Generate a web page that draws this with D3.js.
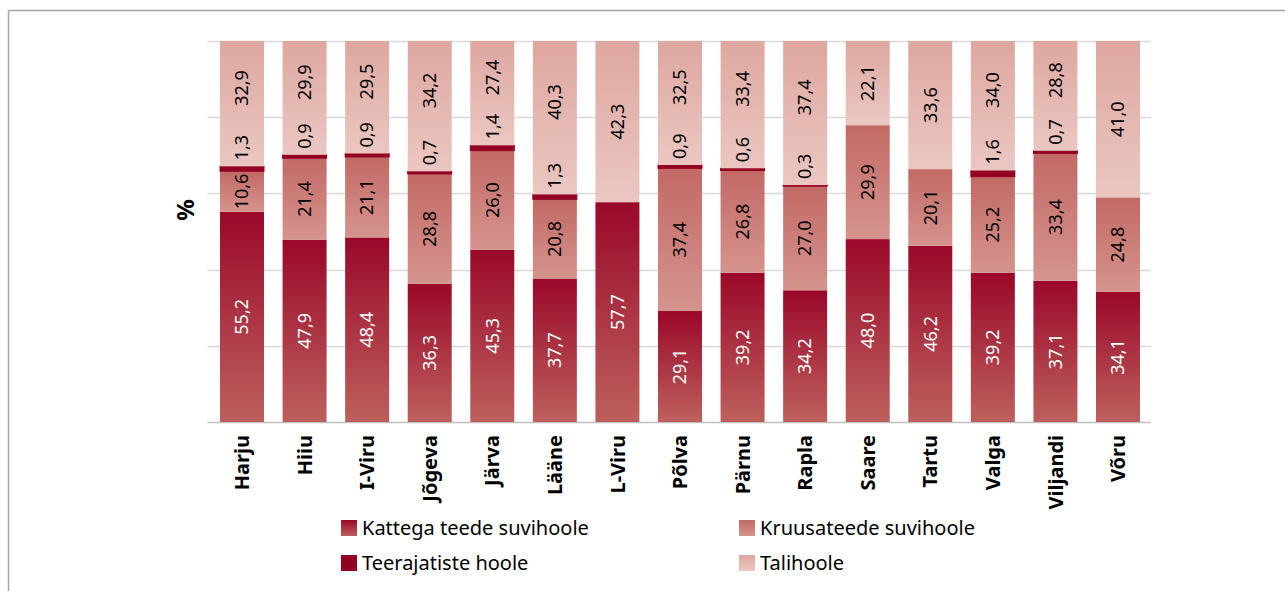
<!DOCTYPE html>
<html>
<head>
<meta charset="utf-8">
<script src="https://cdn.jsdelivr.net/npm/d3@7"></script>
<style>
    body { margin: 0; background: #fff; }
    text { font-family: "Noto Sans", "Open Sans", sans-serif; }
</style>
</head>
<body>
<div id="chart"></div>
<script>
"use-strict";

let svgContainer = "";
const msm = {
    width: 1285,
    height: 591,
    top: 41,
    bottom: 422,
    left: 207.5,
    right: 1152.5
}

// segment order from the bottom up
const series = [
    { key: "kattega", name: "Kattega teede suvihoole", top: "#9a0829", bottom: "#bd605d", label: "#ffffff" },
    { key: "kruusa", name: "Kruusateede suvihoole", top: "#c26965", bottom: "#d6948e", label: "#000000" },
    { key: "teerajad", name: "Teerajatiste hoole", top: "#930022", bottom: "#930022", label: "#000000" },
    { key: "tali", name: "Talihoole", top: "#dea7a0", bottom: "#ebc7c1", label: "#000000" }
]

const data = [
    { maakond: "Harju", kattega: 55.2, kruusa: 10.6, teerajad: 1.3, tali: 32.9 },
    { maakond: "Hiiu", kattega: 47.9, kruusa: 21.4, teerajad: 0.9, tali: 29.9 },
    { maakond: "I-Viru", kattega: 48.4, kruusa: 21.1, teerajad: 0.9, tali: 29.5 },
    { maakond: "Jõgeva", kattega: 36.3, kruusa: 28.8, teerajad: 0.7, tali: 34.2 },
    { maakond: "Järva", kattega: 45.3, kruusa: 26.0, teerajad: 1.4, tali: 27.4 },
    { maakond: "Lääne", kattega: 37.7, kruusa: 20.8, teerajad: 1.3, tali: 40.3 },
    { maakond: "L-Viru", kattega: 57.7, kruusa: 0, teerajad: 0, tali: 42.3 },
    { maakond: "Põlva", kattega: 29.1, kruusa: 37.4, teerajad: 0.9, tali: 32.5 },
    { maakond: "Pärnu", kattega: 39.2, kruusa: 26.8, teerajad: 0.6, tali: 33.4 },
    { maakond: "Rapla", kattega: 34.2, kruusa: 27.0, teerajad: 0.3, tali: 37.4 },
    { maakond: "Saare", kattega: 48.0, kruusa: 29.9, teerajad: 0, tali: 22.1 },
    { maakond: "Tartu", kattega: 46.2, kruusa: 20.1, teerajad: 0, tali: 33.6 },
    { maakond: "Valga", kattega: 39.2, kruusa: 25.2, teerajad: 1.6, tali: 34.0 },
    { maakond: "Viljandi", kattega: 37.1, kruusa: 33.4, teerajad: 0.7, tali: 28.8 },
    { maakond: "Võru", kattega: 34.1, kruusa: 24.8, teerajad: 0, tali: 41.0 }
]

window.onload = function () {
    svgContainer = d3.select("#chart")
        .append('svg')
        .attr('width', msm.width)
        .attr('height', msm.height);

    // outer frame
    svgContainer.append('rect')
        .attr('x', 8.5)
        .attr('y', 10.5)
        .attr('width', 1400)
        .attr('height', 700)
        .attr('fill', 'none')
        .attr('stroke', '#a6a6a6')
        .attr('stroke-width', 1.5);

    makeGradients();
    let scales = drawAxes();
    plotData(scales);
    makeLegend();
}

// one vertical gradient per series, dark at top
function makeGradients() {
    let defs = svgContainer.append('defs');
    series.forEach(function (s) {
        let g = defs.append('linearGradient')
            .attr('id', 'grad-' + s.key)
            .attr('x1', 0).attr('y1', 0)
            .attr('x2', 0).attr('y2', 1);
        g.append('stop').attr('offset', '0%').attr('stop-color', s.top);
        g.append('stop').attr('offset', '100%').attr('stop-color', s.bottom);
    });
}

function drawAxes() {
    let xScale = d3.scaleBand()
        .domain(data.map(d => d.maakond))
        .range([msm.left, msm.right])
        .paddingInner(0.297)
        .paddingOuter(0.2);

    // 100% stacked: shares of one
    let yScale = d3.scaleLinear()
        .domain([0, 1])
        .range([msm.bottom, msm.top]);

    // horizontal gridlines
    svgContainer.append('g')
        .selectAll('line')
        .data(yScale.ticks(5).filter(t => t > 0))
        .enter()
        .append('line')
        .attr('x1', msm.left)
        .attr('x2', msm.right - 1.5)
        .attr('y1', d => Math.round(yScale(d)) + 0.5)
        .attr('y2', d => Math.round(yScale(d)) + 0.5)
        .attr('stroke', '#d9d9d9')
        .attr('stroke-width', 1.5);

    // x axis with category names
    let xAxis = d3.axisBottom(xScale).tickSize(0).tickPadding(0);
    let gx = svgContainer.append('g')
        .attr('class', 'x-axis')
        .attr('transform', 'translate(0,' + msm.bottom + ')')
        .call(xAxis);
    gx.select('.domain')
        .attr('stroke', '#bfbfbf')
        .attr('stroke-width', 1.5)
        .attr('d', 'M' + msm.left + ',0.5H' + (msm.right - 1.5));
    gx.selectAll('.tick text')
        .attr('transform', 'translate(0,13) rotate(-90)')
        .attr('text-anchor', 'end')
        .attr('x', 0)
        .attr('y', 0)
        .attr('dy', '0.36em')
        .style('font-family', '"Noto Sans", sans-serif')
        .style('font-size', '20px')
        .style('font-weight', 'bold')
        .attr('fill', '#000');

    // y axis title
    svgContainer.append('text')
        .attr('transform', 'translate(194,210) rotate(-90)')
        .attr('text-anchor', 'middle')
        .style('font-size', '24px')
        .style('font-weight', 'bold')
        .text('%');

    return { x: xScale, y: yScale };
}

function plotData(map) {
    let stack = d3.stack()
        .keys(series.map(s => s.key))
        .offset(d3.stackOffsetExpand);
    let layers = stack(data);

    let groups = svgContainer.selectAll('.layer')
        .data(layers)
        .enter()
        .append('g')
        .attr('class', 'layer');

    groups.selectAll('rect')
        .data(function (layer) {
            return layer.map(function (d) {
                return { key: layer.key, y0: d[0], y1: d[1], value: d.data[layer.key], maakond: d.data.maakond };
            });
        })
        .enter()
        .filter(d => d.y1 - d.y0 > 0)
        .append('rect')
        .attr('x', d => map.x(d.maakond))
        .attr('width', map.x.bandwidth())
        .attr('y', d => map.y(d.y1))
        .attr('height', d => map.y(d.y0) - map.y(d.y1))
        .attr('fill', d => 'url(#grad-' + d.key + ')')
        .attr('stroke', d => d.key == 'teerajad' ? '#930022' : 'none')
        .attr('stroke-width', 1);

    let labels = svgContainer.append('g').attr('class', 'labels');
    let fmt = d => d.toFixed(1).replace('.', ',');

    data.forEach(function (row, i) {
        let cx = map.x(row.maakond) + map.x.bandwidth() / 2;
        let smallTop = null;
        layers.forEach(function (layer, j) {
            let s = series[j];
            let v = row[s.key];
            if (v <= 0) { return; }
            let y0 = layer[i][0], y1 = layer[i][1];
            let t = labels.append('text')
                .attr('fill', s.label)
                .style('font-size', '18px')
                .text(fmt(v));
            if (s.key == 'teerajad') {
                // thin band: label sits just above it
                let start = map.y(y1) - 6;
                t.attr('transform', 'translate(' + cx + ',' + start + ') rotate(-90)')
                    .attr('text-anchor', 'start')
                    .attr('dy', '0.35em');
                smallTop = start - t.node().getComputedTextLength();
            } else {
                let cy = (map.y(y0) + map.y(y1)) / 2;
                if (s.key == 'tali' && smallTop !== null) {
                    cy = (map.y(y1) + smallTop) / 2;
                }
                t.attr('transform', 'translate(' + cx + ',' + cy + ') rotate(-90)')
                    .attr('text-anchor', 'middle')
                    .attr('dy', '0.35em');
            }
        });
    });
}

function makeLegend() {
    let legendPos = [
        { key: "kattega", x: 341, y: 520 },
        { key: "kruusa", x: 739, y: 520 },
        { key: "teerajad", x: 341, y: 555 },
        { key: "tali", x: 739, y: 555 }
    ];
    let items = svgContainer.selectAll('.legend')
        .data(legendPos)
        .enter()
        .append('g')
        .attr('class', 'legend')
        .attr('transform', d => 'translate(' + d.x + ',' + d.y + ')');

    items.append('rect')
        .attr('width', 16)
        .attr('height', 16)
        .attr('fill', d => 'url(#grad-' + d.key + ')');

    items.append('text')
        .attr('x', 21)
        .attr('y', 15)
        .style('font-size', '20px')
        .attr('fill', '#000')
        .text(d => series.find(s => s.key == d.key).name);
}
</script>
</body>
</html>
